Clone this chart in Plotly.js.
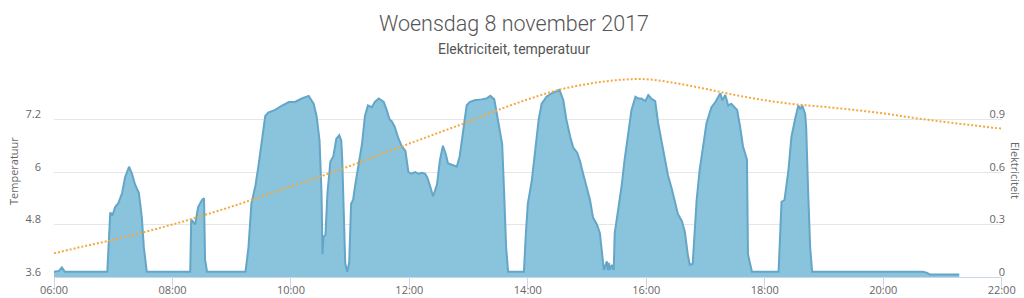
<!DOCTYPE html>
<html>
<head>
<meta charset="utf-8">
<script src="https://cdn.plot.ly/plotly-3.0.1.min.js"></script>
<style>html,body{margin:0;padding:0;background:#fff;}#chart{width:1024px;height:298px;}</style>
</head>
<body>
<div id="chart"></div>
<script>
var day = '2017-11-08 ';
var xTickLabels = ['06:00','08:00','10:00','12:00','14:00','16:00','18:00','20:00','22:00'];
var elecTickVals = [0, 0.3, 0.6, 0.9, 1.2];
var elecTickText = ['0', '0.3', '0.6', '0.9', ''];
var tempTickVals = [3.6, 4.8, 6, 7.2, 8.4];
var tempTickText = ['3.6', '4.8', '6', '7.2', ''];

var elecTimes = ['06:00','06:05','06:08','06:11','06:54','06:57','06:59','07:02','07:05','07:09','07:12','07:16','07:19','07:22','07:26','07:29','07:31','07:34',
'08:18','08:19','08:23','08:26','08:30','08:32','08:33','08:35',
'09:14','09:17','09:20','09:24','09:27','09:31','09:34','09:37','09:44','09:51','09:58','10:04','10:11','10:18','10:23','10:26','10:29','10:31','10:32','10:33','10:35','10:37','10:40','10:43','10:46','10:49','10:51','10:52','10:54','10:55','10:57','10:59',
'11:01','11:03','11:05','11:08','11:12','11:15','11:18','11:22','11:25','11:29','11:34','11:37','11:40','11:42','11:45','11:49','11:52','11:56','11:59',
'12:02','12:06','12:09','12:13','12:16','12:18','12:21','12:24','12:28','12:31','12:34','12:37','12:39','12:43','12:48','12:51','12:55','12:58',
'13:01','13:06','13:13','13:18','13:22','13:26','13:29','13:34','13:36','13:38','13:40','13:56','13:58',
'14:00','14:04','14:07','14:11','14:14','14:19','14:24','14:29','14:32','14:36','14:39','14:43','14:46','14:50','14:53','14:56',
'15:00','15:03','15:06','15:10','15:13','15:16','15:17','15:20','15:21','15:22','15:23','15:25','15:27','15:28','15:32','15:35','15:38','15:42','15:45','15:49','15:52','15:55','15:59',
'16:02','16:05','16:09','16:12','16:16','16:19','16:22','16:26','16:29','16:32','16:36','16:39','16:42','16:44','16:47','16:49','16:51','16:54','16:58',
'17:01','17:06','17:10','17:15','17:17','17:20','17:23','17:26','17:32','17:35','17:38','17:42','17:43','17:47',
'18:14','18:17','18:20','18:24','18:27','18:31','18:34','18:36','18:38','18:41','18:42','18:44','18:46','18:48',
'20:40','20:44','20:47','21:17'];
var elecValues = [0.03,0.035,0.055,0.03,0.03,0.37,0.35,0.40,0.42,0.48,0.57,0.63,0.59,0.53,0.48,0.34,0.17,0.03,
0.03,0.33,0.30,0.40,0.44,0.45,0.10,0.03,
0.03,0.17,0.42,0.52,0.63,0.80,0.92,0.94,0.955,0.98,1.00,1.00,1.02,1.035,0.99,0.92,0.78,0.48,0.13,0.23,0.24,0.48,0.66,0.69,0.79,0.81,0.78,0.67,0.29,0.08,0.03,0.08,
0.42,0.44,0.52,0.63,0.76,0.92,0.98,0.97,1.00,1.02,1.00,0.955,0.90,0.89,0.86,0.79,0.75,0.72,0.60,
0.59,0.60,0.59,0.595,0.59,0.57,0.52,0.46,0.53,0.67,0.75,0.70,0.65,0.64,0.63,0.69,0.84,0.98,
1.00,1.01,1.015,1.02,1.035,1.015,0.92,0.76,0.48,0.17,0.03,0.03,0.25,
0.42,0.55,0.71,0.90,0.99,1.03,1.05,1.06,1.07,1.01,0.90,0.80,0.74,0.71,0.66,0.59,
0.51,0.44,0.34,0.30,0.25,0.11,0.04,0.09,0.04,0.08,0.04,0.07,0.04,0.25,0.40,0.52,0.67,0.82,0.955,1.03,1.02,1.02,1.005,
1.04,1.02,1.005,0.88,0.76,0.67,0.58,0.50,0.43,0.36,0.32,0.26,0.13,0.07,0.075,0.26,0.44,0.61,0.76,
0.88,0.97,1.00,1.05,1.01,1.04,0.98,0.99,0.955,0.86,0.745,0.67,0.13,0.03,
0.03,0.43,0.44,0.61,0.80,0.91,0.98,0.96,0.98,0.93,0.85,0.48,0.17,0.03,
0.03,0.025,0.015,0.015];

var tempTimes = ['06:00','06:30','07:00','07:30','08:00','08:30','09:00','09:30','10:00','10:30','11:00','11:30','12:00','12:30','13:00','13:30','14:00','14:30','15:00','15:30','16:00','16:30','17:00','17:30','18:00','18:30','19:00','19:30','20:00','20:30','21:00','21:30','22:00'];
var tempValues = [4.14,4.30,4.45,4.62,4.80,5.00,5.21,5.44,5.67,5.90,6.14,6.40,6.65,6.90,7.15,7.42,7.66,7.87,8.01,8.10,8.12,8.03,7.90,7.76,7.64,7.55,7.49,7.42,7.34,7.24,7.15,7.07,6.99];

function toDate(arr){ return arr.map(function(t){ return day + t; }); }

var traces = [
  {
    type: 'scatter', mode: 'lines', name: 'Elektriciteit',
    x: toDate(elecTimes), y: elecValues, yaxis: 'y',
    fill: 'tozeroy', fillcolor: '#8ac3dc',
    line: {color: '#64a6c7', width: 2},
    hoverinfo: 'skip'
  },
  {
    type: 'scatter', mode: 'lines', name: 'Temperatuur',
    x: toDate(tempTimes), y: tempValues, yaxis: 'y2',
    line: {color: '#f3a840', width: 2, dash: '2px,2px', shape: 'spline'},
    hoverinfo: 'skip'
  }
];

var tickFont = {family: 'Open Sans, DejaVu Sans, sans-serif', size: 11, color: '#666666'};

var layout = {
  width: 1024, height: 298,
  margin: {l: 54, r: 22, t: 67, b: 21, pad: 0},
  paper_bgcolor: '#ffffff', plot_bgcolor: '#ffffff',
  showlegend: false,
  title: {
    text: 'Woensdag 8 november 2017',
    font: {family: 'Roboto, Liberation Sans Narrow, sans-serif', size: 21.5, color: '#555555', weight: 300},
    x: 514/1024, xref: 'container', xanchor: 'center',
    y: 1 - 23/298, yref: 'container', yanchor: 'middle'
  },
  xaxis: {
    type: 'date',
    range: [day + '06:00', day + '22:00:20'],
    tickvals: toDate(xTickLabels), ticktext: xTickLabels,
    showgrid: false, zeroline: false,
    showline: true, linecolor: '#ccd6eb', linewidth: 1,
    ticks: 'outside', ticklen: 10, tickcolor: '#ccd6eb', tickwidth: 1,
    ticklabelstandoff: -7,
    tickfont: tickFont
  },
  yaxis: {
    side: 'left', anchor: 'free', position: 1,
    range: [0, 1.2],
    tickvals: elecTickVals, ticktext: elecTickText,
    ticklabelshift: -5,
    ticklabelstandoff: -3,
    showgrid: true, gridcolor: '#e6e6e6', gridwidth: 1,
    zeroline: false, showline: false, ticks: '',
    tickfont: tickFont
  },
  yaxis2: {
    side: 'left', overlaying: 'y', anchor: 'x',
    range: [3.6, 8.4],
    tickvals: tempTickVals, ticktext: tempTickText,
    ticklabelshift: -5,
    ticklabelstandoff: 12,
    showgrid: false, zeroline: false, showline: false, ticks: '',
    tickfont: tickFont
  },
  annotations: [
    {
      text: 'Elektriciteit, temperatuur', showarrow: false,
      xref: 'paper', x: (514 - 54) / 948, xanchor: 'center',
      yref: 'paper', y: 1 + (67 - 49) / 210, yanchor: 'middle',
      font: {family: 'Roboto, Liberation Sans Narrow, sans-serif', size: 14, color: '#555555'}
    },
    {
      text: 'Temperatuur', showarrow: false, textangle: -90,
      xref: 'paper', x: (13 - 54) / 948, xanchor: 'center',
      yref: 'paper', y: (277 - 171) / 210, yanchor: 'middle',
      font: {family: 'Open Sans, DejaVu Sans, sans-serif', size: 11, color: '#666666'}
    },
    {
      text: 'Elektriciteit', showarrow: false, textangle: 90,
      xref: 'paper', x: (1016 - 54) / 948, xanchor: 'center',
      yref: 'paper', y: (277 - 171) / 210, yanchor: 'middle',
      font: {family: 'Open Sans, DejaVu Sans, sans-serif', size: 11, color: '#666666'}
    }
  ]
};

Plotly.newPlot('chart', traces, layout, {staticPlot: true, displayModeBar: false});
</script>
</body>
</html>
